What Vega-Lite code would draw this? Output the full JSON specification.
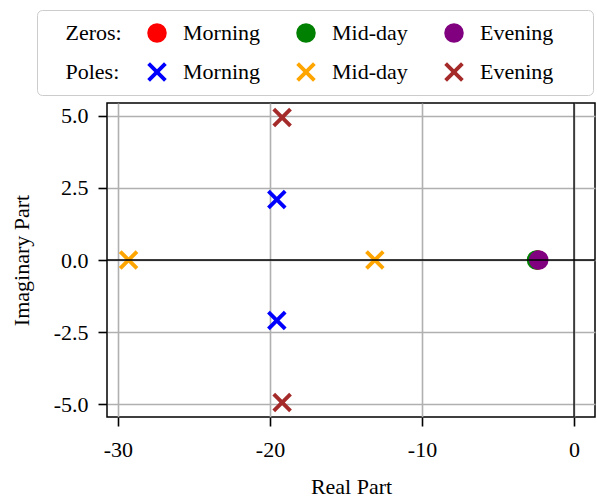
{
  "$schema": "https://vega.github.io/schema/vega-lite/v6.json",
  "width": 488,
  "height": 314,
  "autosize": {"type": "none"},
  "padding": {"left": 107, "top": 103, "right": 2, "bottom": 80},
  "background": "white",
  "config": {
    "view": {"stroke": "black", "strokeWidth": 1.5},
    "font": "Liberation Serif",
    "axis": {
      "labelFont": "Liberation Serif",
      "labelFontSize": 22,
      "labelColor": "black",
      "titleFont": "Liberation Serif",
      "titleFontSize": 22,
      "titleFontWeight": "normal",
      "titleColor": "black",
      "domain": false,
      "tickColor": "black",
      "tickWidth": 1.6,
      "tickSize": 9,
      "gridColor": "#b0b0b0",
      "gridWidth": 1.6,
      "gridOpacity": 1
    }
  },
  "datasets": {
    "pz": [
      {"key": "1 Morning", "kind": "Zeros", "period": "Morning", "re": -2.4, "im": 0},
      {"key": "2 Mid-day", "kind": "Zeros", "period": "Mid-day", "re": -2.47, "im": 0},
      {"key": "3 Evening", "kind": "Zeros", "period": "Evening", "re": -2.32, "im": 0},
      {"key": "4 Morning", "kind": "Poles", "period": "Morning", "re": -19.55, "im": 2.1},
      {"key": "4 Morning", "kind": "Poles", "period": "Morning", "re": -19.55, "im": -2.1},
      {"key": "5 Mid-day", "kind": "Poles", "period": "Mid-day", "re": -29.3, "im": 0},
      {"key": "5 Mid-day", "kind": "Poles", "period": "Mid-day", "re": -13.1, "im": 0},
      {"key": "6 Evening", "kind": "Poles", "period": "Evening", "re": -19.2, "im": 4.95},
      {"key": "6 Evening", "kind": "Poles", "period": "Evening", "re": -19.2, "im": -4.95}
    ],
    "zero": [{"v": 0}]
  },
  "layer": [
    {
      "data": {"name": "pz"},
      "mark": {"type": "point", "filled": true, "opacity": 1, "size": 380, "strokeWidth": 0},
      "encoding": {
        "x": {
          "field": "re", "type": "quantitative",
          "scale": {"domain": [-30.72, 1.38], "nice": false, "zero": false},
          "axis": {"values": [-30, -20, -10, 0], "title": "Real Part", "labelPadding": 13, "titlePadding": 16,
                   "labelExpr": "datum.value < 0 ? '-' + format(-datum.value, 'd') : format(datum.value, 'd')"}
        },
        "y": {
          "field": "im", "type": "quantitative",
          "scale": {"domain": [-5.45, 5.45], "nice": false, "zero": false},
          "axis": {"values": [-5, -2.5, 0, 2.5, 5], "title": "Imaginary Part", "labelPadding": 10, "titlePadding": 20,
                   "labelExpr": "datum.value < 0 ? '-' + format(-datum.value, '.1f') : format(datum.value, '.1f')"}
        },
        "color": {
          "field": "key", "type": "nominal",
          "scale": {
            "domain": ["1 Morning", "2 Mid-day", "3 Evening", "4 Morning", "5 Mid-day", "6 Evening"],
            "range": ["red", "green", "purple", "blue", "orange", "brown"]
          },
          "legend": {
            "title": ["\u200b\u00a0\u00a0\u00a0Zeros:", "\u200b\u00a0\u00a0\u00a0Poles:"],
            "labelExpr": "substring(datum.label, 2) + (indexof(datum.label, 'Evening') >= 0 ? '\u00a0\u00a0\u00a0\u00a0\u00a0\u200b' : '')",
            "orient": "none",
            "legendX": -70,
            "legendY": -93,
            "direction": "horizontal",
            "columns": 3,
            "titleOrient": "left",
            "padding": 12,
            "strokeColor": "#cccccc",
            "fillColor": "white",
            "cornerRadius": 5,
            "labelFont": "Liberation Serif",
            "labelFontSize": 22,
            "labelColor": "black",
            "titleFont": "Liberation Serif",
            "titleFontSize": 22,
            "titleFontWeight": "normal",
            "titleColor": "black",
            "titleLineHeight": 39,
            "titlePadding": 24,
            "rowPadding": 17,
            "columnPadding": 35,
            "labelOffset": 15,
            "symbolSize": 380,
            "symbolStrokeWidth": 0,
            "symbolOpacity": 1
          }
        },
        "shape": {
          "field": "key", "type": "nominal",
          "scale": {
            "domain": ["1 Morning", "2 Mid-day", "3 Evening", "4 Morning", "5 Mid-day", "6 Evening"],
            "range": ["circle", "circle", "circle",
              "M-1,-0.72L-0.72,-1L0,-0.28L0.72,-1L1,-0.72L0.28,0L1,0.72L0.72,1L0,0.28L-0.72,1L-1,0.72L-0.28,0Z",
              "M-1,-0.72L-0.72,-1L0,-0.28L0.72,-1L1,-0.72L0.28,0L1,0.72L0.72,1L0,0.28L-0.72,1L-1,0.72L-0.28,0Z",
              "M-1,-0.72L-0.72,-1L0,-0.28L0.72,-1L1,-0.72L0.28,0L1,0.72L0.72,1L0,0.28L-0.72,1L-1,0.72L-0.28,0Z"]
          }
        }
      }
    },
    {
      "data": {"name": "zero"},
      "mark": {"type": "rule", "color": "black", "strokeWidth": 1.3},
      "encoding": {"x": {"field": "v", "type": "quantitative"}}
    },
    {
      "data": {"name": "zero"},
      "mark": {"type": "rule", "color": "black", "strokeWidth": 1.3},
      "encoding": {"y": {"field": "v", "type": "quantitative"}}
    }
  ]
}
